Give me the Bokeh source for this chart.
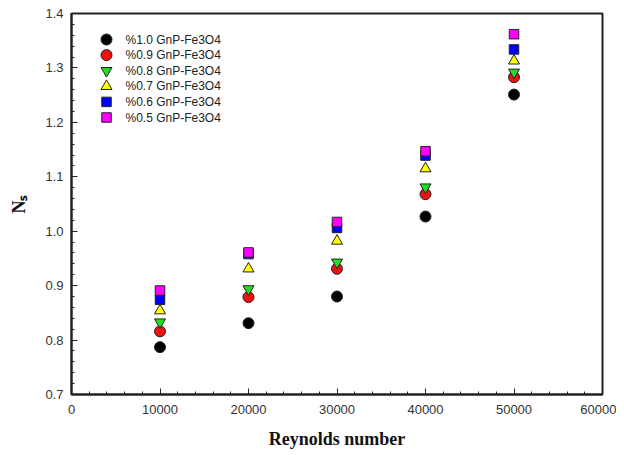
from bokeh.plotting import figure
from bokeh.models import Range1d, FixedTicker, PrintfTickFormatter
from bokeh.core.properties import value
from bokeh.embed import file_html
from bokeh.resources import INLINE

reynolds = [10000, 20000, 30000, 40000, 50000]
labels = ["%1.0 GnP-Fe3O4", "%0.9 GnP-Fe3O4", "%0.8 GnP-Fe3O4",
          "%0.7 GnP-Fe3O4", "%0.6 GnP-Fe3O4", "%0.5 GnP-Fe3O4"]
ns_10 = [0.787, 0.831, 0.880, 1.027, 1.251]
ns_09 = [0.816, 0.879, 0.931, 1.068, 1.283]
ns_08 = [0.833, 0.894, 0.943, 1.081, 1.292]
ns_07 = [0.854, 0.931, 0.982, 1.115, 1.313]
ns_06 = [0.874, 0.958, 1.006, 1.139, 1.334]
ns_05 = [0.891, 0.961, 1.017, 1.147, 1.362]
series = [ns_10, ns_09, ns_08, ns_07, ns_06, ns_05]
markers = ["circle", "circle", "inverted_triangle", "triangle", "square", "square"]
colors = ["#000000", "#ee1111", "#22dd22", "#ffff00", "#0000ff", "#ff00ff"]
sizes = [11, 11, 11, 11, 9.5, 9.5]
x_ticks = [0, 10000, 20000, 30000, 40000, 50000, 60000]
y_ticks = [0.7, 0.8, 0.9, 1.0, 1.1, 1.2, 1.3, 1.4]
x_minor = [i * 2000 for i in range(31)]
y_minor = [round(0.7 + i * 0.02, 2) for i in range(36)]

FW, FH = 531, 381
p = figure(frame_width=FW, frame_height=FH, min_border_left=71, min_border_top=13,
           min_border_right=14, min_border_bottom=53,
           output_backend="svg", toolbar_location=None,
           x_range=Range1d(0, 60000), y_range=Range1d(0.7, 1.4))
p.extra_x_ranges = {"px": Range1d(0, FW)}
p.extra_y_ranges = {"px": Range1d(0, FH)}
p.grid.visible = False
p.outline_line_color = "#222222"
p.outline_line_width = 2
p.background_fill_color = "white"
p.border_fill_color = "white"

p.xaxis.ticker = FixedTicker(ticks=x_ticks, minor_ticks=x_minor)
p.yaxis.ticker = FixedTicker(ticks=y_ticks, minor_ticks=y_minor)
p.yaxis.formatter = PrintfTickFormatter(format="%.1f")
for ax in (p.xaxis[0], p.yaxis[0]):
    ax.major_tick_in = 6
    ax.major_tick_out = 0
    ax.minor_tick_in = 3
    ax.minor_tick_out = 0
    ax.axis_line_width = 2
    ax.axis_line_color = "#222222"
    ax.major_tick_line_color = "#222222"
    ax.minor_tick_line_color = "#222222"
    ax.major_label_text_font = "Liberation Sans"
    ax.major_label_text_font_size = "13px"
    ax.major_label_text_color = "#333333"
    ax.axis_label_text_font = "Liberation Serif"
    ax.axis_label_text_font_style = "bold"
    ax.axis_label_text_font_size = "18px"
    ax.axis_label_text_color = "#111111"

p.xaxis.axis_label = "Reynolds number"
p.xaxis.major_label_standoff = 10
p.xaxis.axis_label_standoff = 12
p.yaxis.axis_label = "Nₛ"
p.yaxis.major_label_standoff = 8
p.yaxis.axis_label_standoff = 13

for ys, m, c, s in zip(series, markers, colors, sizes):
    p.scatter(reynolds, ys, marker=m, size=s, fill_color=c,
              line_color="#222222", line_width=1)

# legend drawn in frame-pixel coordinates (layout only)
LEG_X, LEG_TOP, LEG_ROW, LEG_GAP = 35, 26, 15.6, 19
for i, (lab, m, c, s) in enumerate(zip(labels, markers, colors, sizes)):
    yy = FH - (LEG_TOP + i * LEG_ROW)
    p.scatter([LEG_X], [yy], marker=m, size=s, fill_color=c,
              line_color="#222222", line_width=1,
              x_range_name="px", y_range_name="px")
    p.text([LEG_X + LEG_GAP], [yy], text=[lab], text_font=value("Liberation Sans"),
           text_font_size="12px", text_color="#222222", text_baseline="middle",
           text_align="left", x_range_name="px", y_range_name="px")

open("out.html", "w").write(file_html(p, INLINE))
